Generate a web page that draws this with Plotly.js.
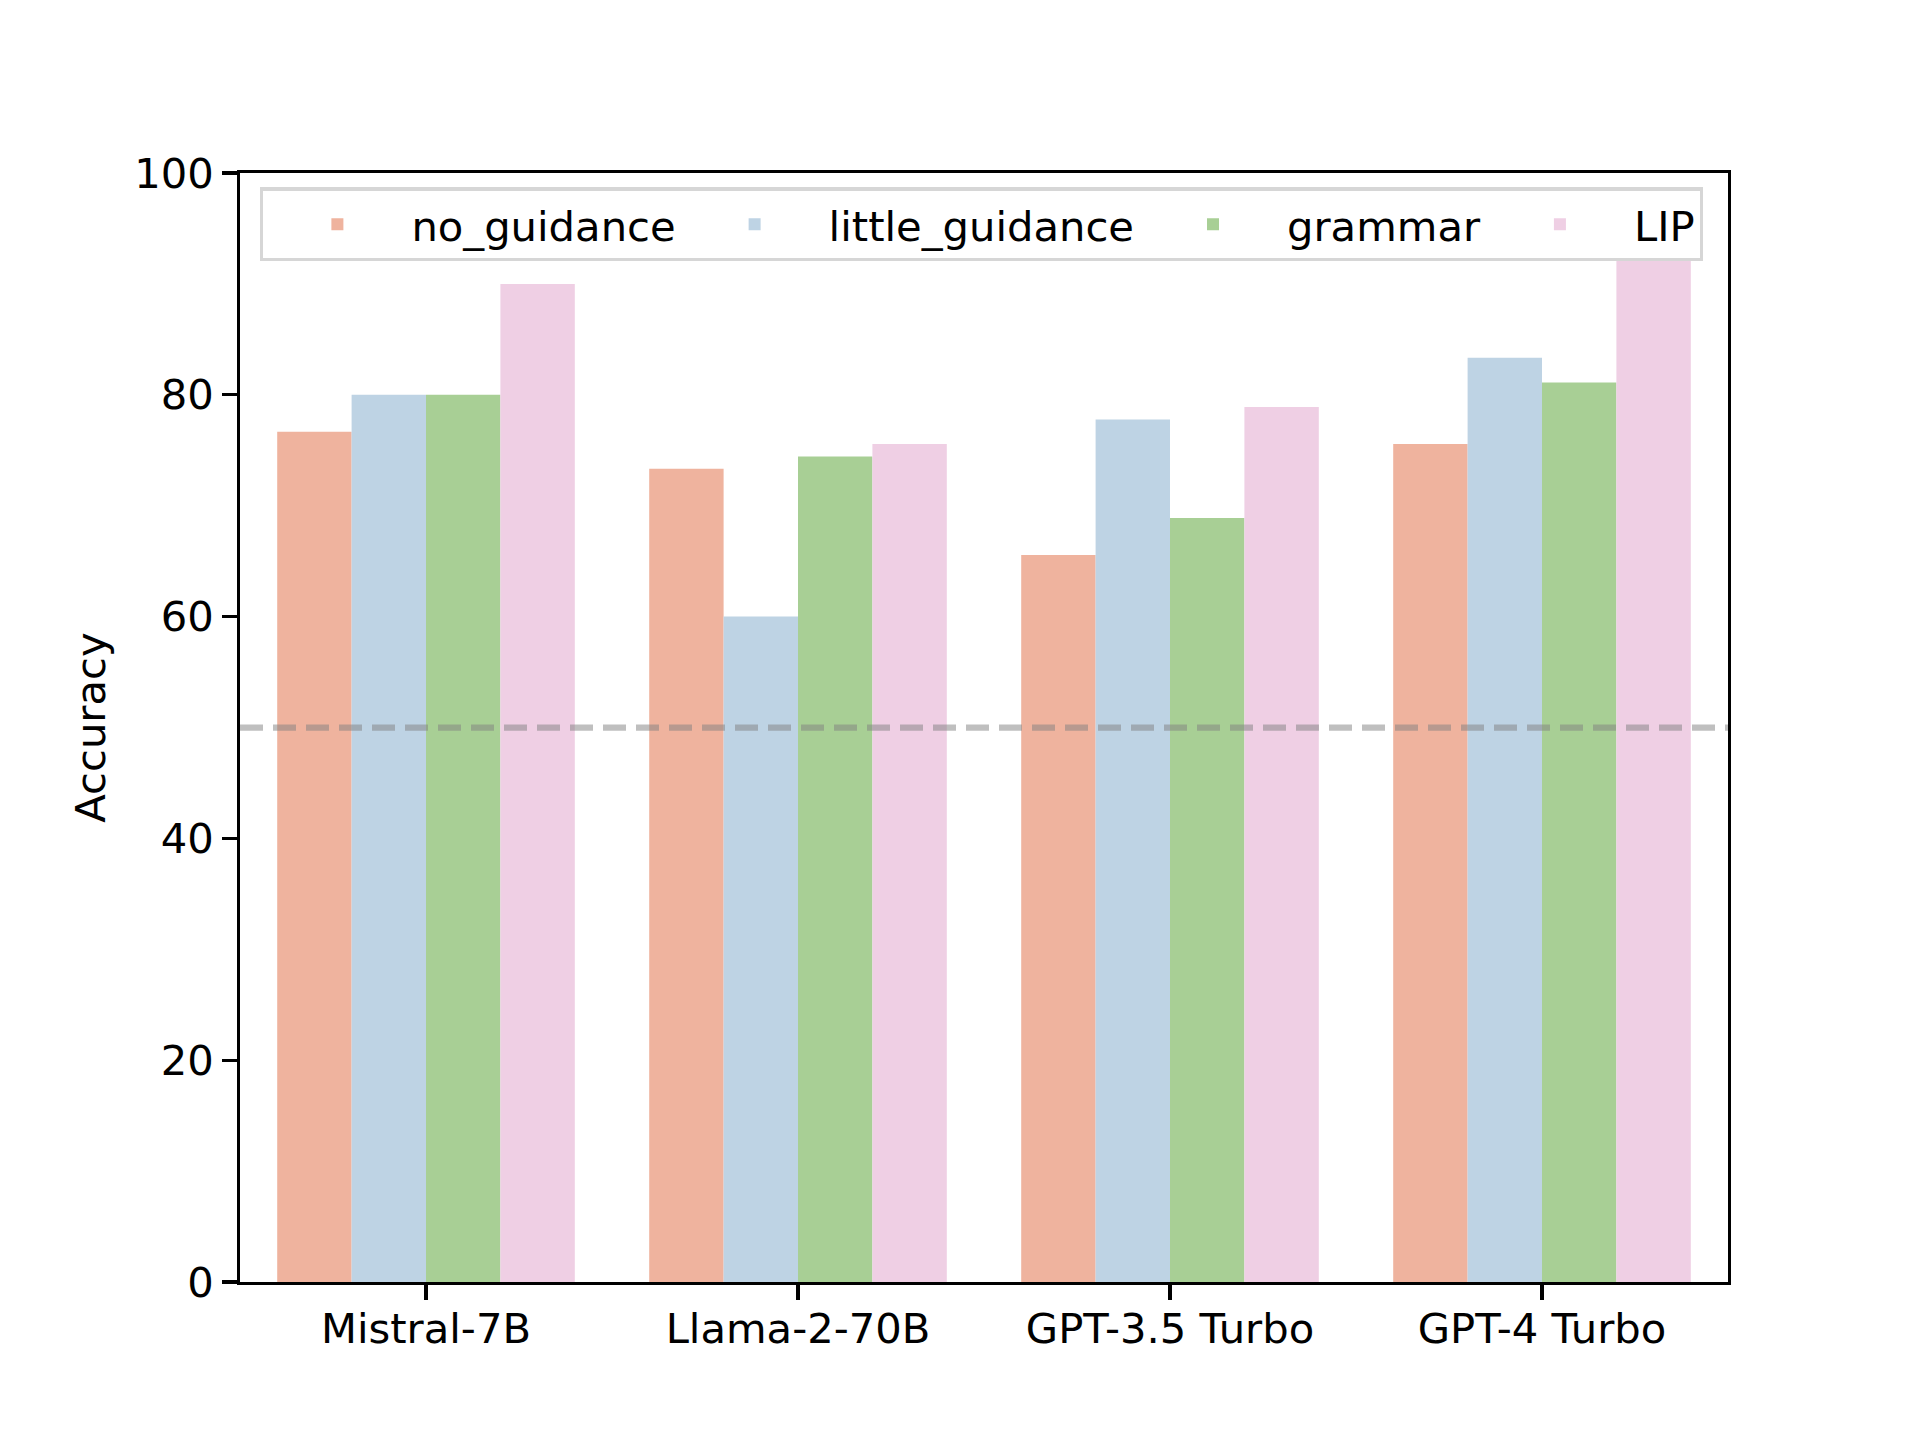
<!DOCTYPE html>
<html>
<head>
<meta charset="utf-8">
<script src="https://cdn.plot.ly/plotly-3.0.1.min.js"></script>
<style>html,body{margin:0;padding:0;background:#fff;}#chart{width:1920px;height:1440px;}</style>
</head>
<body>
<div id="chart"></div>
<script>
// Data
const models = ["Mistral-7B", "Llama-2-70B", "GPT-3.5 Turbo", "GPT-4 Turbo"];
const seriesNames = ["no_guidance", "little_guidance", "grammar", "LIP"];
const noGuidance = [76.67, 73.33, 65.56, 75.56];
const littleGuidance = [80.00, 60.00, 77.78, 83.33];
const grammar = [80.00, 74.44, 68.89, 81.11];
const lip = [90.00, 75.56, 78.89, 92.22];
const yTicks = [0, 20, 40, 60, 80, 100];
const baselineValue = 50;

const colors = ["#EFB39E", "#BED3E4", "#A8CF95", "#EFCFE4"];
const seriesValues = [noGuidance, littleGuidance, grammar, lip];

const FONT = "DejaVu Sans, sans-serif";
const FS = 41.7;

const traces = seriesNames.map((name, i) => ({
  type: "bar",
  name: name,
  x: models,
  y: seriesValues[i],
  marker: {color: colors[i], line: {width: 0}},
  hoverinfo: "x+y+name"
}));

const layout = {
  width: 1920,
  height: 1440,
  paper_bgcolor: "#ffffff",
  plot_bgcolor: "#ffffff",
  margin: {l: 240, r: 192, t: 172.8, b: 158.4, pad: 0},
  barmode: "group",
  bargap: 0.2,
  bargroupgap: 0,
  font: {family: FONT, size: FS, color: "#000000"},
  showlegend: true,
  legend: {
    orientation: "h",
    x: 0.0135, xanchor: "left",
    y: 0.987, yanchor: "top",
    bgcolor: "rgba(255,255,255,0.8)",
    bordercolor: "#d6d6d6",
    borderwidth: 3.3,
    font: {family: FONT, size: FS, color: "#000000"},
    itemwidth: 138,
    tracegroupgap: 0,
    traceorder: "normal"
  },
  xaxis: {
    type: "category",
    range: [-0.5, 3.5],
    showgrid: false,
    zeroline: false,
    showline: true,
    linecolor: "#000000",
    linewidth: 3.33,
    mirror: true,
    ticks: "outside",
    ticklen: 14.6,
    tickwidth: 3.33,
    tickcolor: "#000000",
    ticklabelstandoff: -7,
    tickfont: {family: FONT, size: FS, color: "#000000"},
    automargin: false,
    fixedrange: true
  },
  yaxis: {
    range: [0, 100],
    tickvals: yTicks,
    ticktext: yTicks.map(String),
    showgrid: false,
    zeroline: false,
    showline: true,
    linecolor: "#000000",
    linewidth: 3.33,
    mirror: true,
    ticks: "outside",
    ticklen: 14.6,
    tickwidth: 3.33,
    tickcolor: "#000000",
    tickfont: {family: FONT, size: FS, color: "#000000"},
    title: {text: "Accuracy", font: {family: FONT, size: FS, color: "#000000"}, standoff: 16},
    automargin: false,
    fixedrange: true
  },
  shapes: [{
    type: "line",
    xref: "paper", x0: 0, x1: 1,
    yref: "y", y0: baselineValue, y1: baselineValue,
    line: {color: "rgba(128,128,128,0.5)", width: 6.25, dash: "23px,10px"},
    layer: "above"
  }]
};

Plotly.newPlot("chart", traces, layout, {displayModeBar: false, staticPlot: true});
</script>
</body>
</html>
